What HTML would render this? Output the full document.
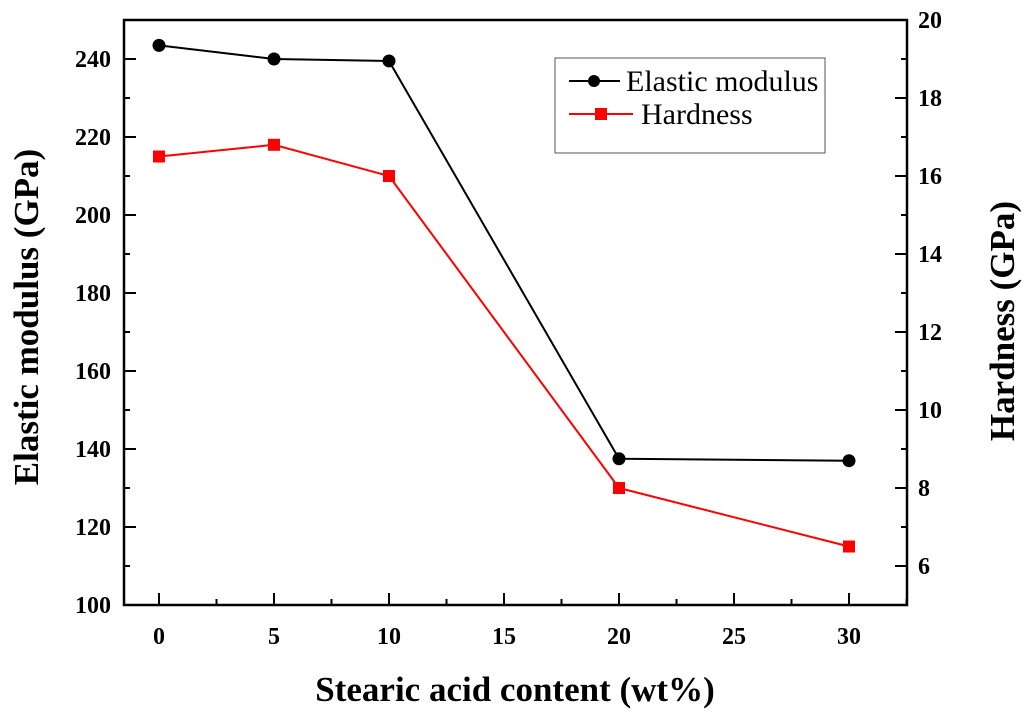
<!DOCTYPE html>
<html><head><meta charset="utf-8"><style>
body{margin:0;background:#fff}
svg text{font-family:"Liberation Serif",serif;font-weight:bold;fill:#000}
</style></head><body>
<svg id="c" width="1024" height="717" viewBox="0 0 1024 717"></svg>
<script>
const categories=[0,5,10,20,30];
const elastic=[243.5,240,239.5,137.5,137];
const hardness=[16.5,16.8,16.0,8.0,6.5];
const xTicks=[0,5,10,15,20,25,30];
const yLeftTicks=[100,120,140,160,180,200,220,240];
const yRightTicks=[6,8,10,12,14,16,18,20];
const L=124,R=907,T=20,B=605;
const xs=v=>159+v*23;
const yl=v=>B-(v-100)/150*(B-T);
const yr=v=>B-(v-5)/15*(B-T);
const svg=document.getElementById('c');
const NS='http://www.w3.org/2000/svg';
function mk(t,a,p){const e=document.createElementNS(NS,t);for(const k in a)e.setAttribute(k,a[k]);(p||svg).appendChild(e);return e;}
const frame=mk('rect',{x:L,y:T,width:R-L,height:B-T,fill:'none',stroke:'#000','stroke-width':2.5});


for(let v=0;v<=32.5;v+=2.5){const x=xs(v);const maj=v%5===0;
 const t=mk('line',{x1:x,x2:x,y1:B,y2:B-(maj?12:6),stroke:'#000','stroke-width':2});
 
 }
xTicks.forEach(v=>{const t=mk('text',{x:xs(v),y:644,'text-anchor':'middle','font-size':24});t.textContent=v;
 
 });
for(let v=110;v<=250;v+=10){const y=yl(v);const maj=v%20===0;
 const t=mk('line',{x1:L,x2:L+(maj?12:6),y1:y,y2:y,stroke:'#000','stroke-width':2});
 
 }
yLeftTicks.forEach(v=>{const t=mk('text',{x:111,y:yl(v)+8,'text-anchor':'end','font-size':24});t.textContent=v;
 
 });
for(let v=6;v<=20;v+=1){const y=yr(v);const maj=v%2===0;
 const t=mk('line',{x1:R,x2:R-(maj?12:6),y1:y,y2:y,stroke:'#000','stroke-width':2});
 
 }
yRightTicks.forEach(v=>{const t=mk('text',{x:918,y:yr(v)+8,'text-anchor':'start','font-size':24});t.textContent=v;
 
 });
let t=mk('text',{x:515,y:701,'text-anchor':'middle','font-size':35});t.textContent='Stearic acid content (wt%)';


t=mk('text',{x:0,y:0,'text-anchor':'middle','font-size':35,transform:'translate(38,317) rotate(-90)'});t.textContent='Elastic modulus (GPa)';


t=mk('text',{x:0,y:0,'text-anchor':'middle','font-size':35,transform:'translate(1014,321) rotate(-90)'});t.textContent='Hardness (GPa)';


let p=mk('polyline',{points:categories.map((c,i)=>xs(c)+','+yl(elastic[i])).join(' '),fill:'none',stroke:'#000','stroke-width':2});


p=mk('polyline',{points:categories.map((c,i)=>xs(c)+','+yr(hardness[i])).join(' '),fill:'none',stroke:'#f00','stroke-width':2});


categories.forEach((c,i)=>{
 const a=mk('circle',{cx:xs(c),cy:yl(elastic[i]),r:6.5,fill:'#000'});
 
 
 const b=mk('rect',{x:xs(c)-6,y:yr(hardness[i])-6,width:12,height:12,fill:'#f00'});
 
 
});
const lg=mk('g',{});


mk('rect',{x:555,y:58,width:270,height:95,fill:'#fff',stroke:'#555','stroke-width':1},lg);
mk('line',{x1:569,x2:620,y1:81,y2:81,stroke:'#000','stroke-width':2},lg);
mk('circle',{cx:594,cy:81,r:6,fill:'#000'},lg);
t=mk('text',{x:626,y:91,'font-size':30},lg);t.textContent='Elastic modulus';t.style.fontWeight='normal';
mk('line',{x1:569,x2:633,y1:114,y2:114,stroke:'#f00','stroke-width':2},lg);
mk('rect',{x:595,y:108,width:12,height:12,fill:'#f00'},lg);
t=mk('text',{x:641,y:124,'font-size':30},lg);t.textContent='Hardness';t.style.fontWeight='normal';
</script>
</body></html>
